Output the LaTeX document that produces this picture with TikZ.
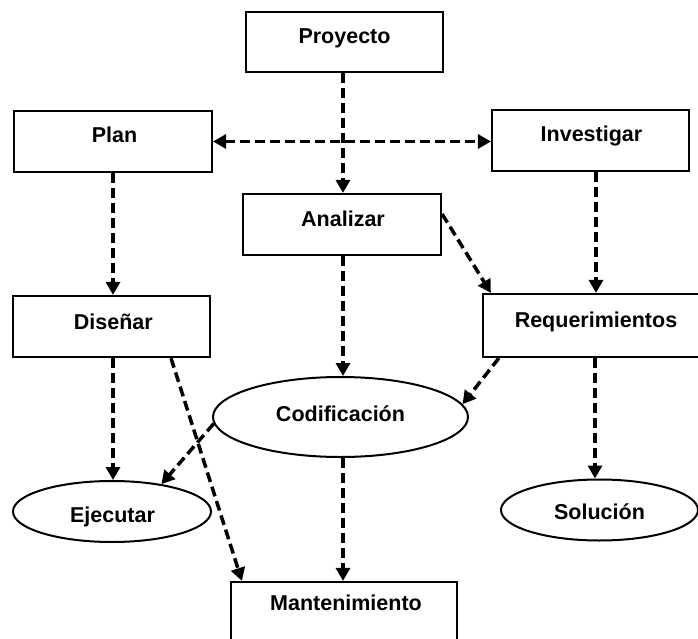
\documentclass[tikz,border=0pt]{standalone}
\usepackage{fontspec}
\setmainfont{Liberation Sans}
\usetikzlibrary{arrows.meta,shapes.geometric}

\tikzset{
  stepbox/.style={draw, line width=2.2pt, rectangle, inner sep=0pt},
  oval/.style={draw, line width=2pt, ellipse, inner sep=0pt},
  lbl/.style={anchor=base, inner sep=0pt, font=\fontsize{21.5}{24}\selectfont\bfseries},
  flow/.style={line width=3.5pt, dash pattern=on 10pt off 5pt,
    -{Triangle[length=13pt,width=14pt]}},
  flowboth/.style={line width=3.5pt, dash pattern=on 10pt off 5pt,
    {Triangle[length=13pt,width=14pt]}-{Triangle[length=13pt,width=14pt]}}
}

\begin{document}
\begin{tikzpicture}[x=1pt,y=-1pt]
  \path[use as bounding box] (0,0) rectangle (698,639);
  \clip (0,0) rectangle (698,639);

  % boxes
  \node[stepbox, minimum width=197pt, minimum height=60pt] (proy) at (344.5,42) {};
  \node[stepbox, minimum width=198pt, minimum height=61pt] (plan) at (113,141.5) {};
  \node[stepbox, minimum width=197pt, minimum height=61pt] (inv)  at (590.5,140.5) {};
  \node[stepbox, minimum width=198pt, minimum height=61pt] (ana)  at (342,224.5) {};
  \node[stepbox, minimum width=197pt, minimum height=61pt] (dis)  at (111.5,326.5) {};
  \node[stepbox, minimum width=226pt, minimum height=63pt] (req)  at (596,325.5) {};
  \node[stepbox, minimum width=226pt, minimum height=62pt] (man)  at (344,613) {};

  % ovals
  \node[oval, minimum width=255pt, minimum height=80pt] (cod) at (340.5,417) {};
  \node[oval, minimum width=198pt, minimum height=61pt] (eje) at (112,511.5) {};
  \node[oval, minimum width=197pt, minimum height=61pt] (sol) at (599.5,510) {};

  % labels
  \node[lbl] (proyT) at ([yshift=-1.3pt]proy.center) {Proyecto};
  \node[lbl] (planT) at ([xshift=1.5pt,yshift=-1.5pt]plan.center) {Plan};
  \node[lbl] (invT)  at ([xshift=1pt,yshift=-1.5pt]inv.center) {Investigar};
  \node[lbl] (anaT)  at ([xshift=1pt,yshift=-1.5pt]ana.center) {Analizar};
  \node[lbl] (disT)  at ([xshift=1.8pt,yshift=-2.5pt]dis.center) {Diseñar};
  \node[lbl] (reqT)  at ([yshift=-1.5pt]req.center) {Requerimientos};
  \node[lbl] (manT)  at ([xshift=2pt,yshift=-30pt]man.north) {Mantenimiento};
  \node[lbl] (codT)  at ([yshift=-4pt]cod.center) {Codificación};
  \node[lbl] (ejeT)  at ([xshift=0.5pt,yshift=-10.5pt]eje.center) {Ejecutar};
  \node[lbl] (solT)  at ([yshift=-9pt]sol.center) {Solución};

  % connectors
  \draw[flow] ([xshift=-1.5pt]proy.south) -- ([xshift=1pt]ana.north);
  \draw[flowboth] (plan.east) -- (plan.east -| inv.west);
  \draw[flow] (plan.south) -- (plan.south |- dis.north);
  \draw[flow] (req.north |- inv.south) -- (req.north);
  \draw[flow] ([yshift=10.5pt]ana.east) -- ([xshift=9pt]req.north west);
  \draw[flow] ([xshift=1pt]ana.south) -- ([xshift=1pt]ana.south |- cod.north);
  \draw[flow] ([xshift=1.5pt]dis.south) -- ([xshift=1.5pt]dis.south |- eje.north);
  \draw[flow] ([xshift=59.5pt]dis.south) -- ([xshift=12pt]man.north west);
  \draw[flow] ([xshift=17pt]req.south west) -- (cod.6);
  \draw[flow] (cod.183) -- (eje.29);
  \draw[flow] ([xshift=2.5pt]cod.south) -- ([xshift=2.5pt]cod.south |- man.north);
  \draw[flow] ([xshift=-1pt]req.south) -- ([xshift=-1pt]req.south |- sol.north);
\end{tikzpicture}
\end{document}
